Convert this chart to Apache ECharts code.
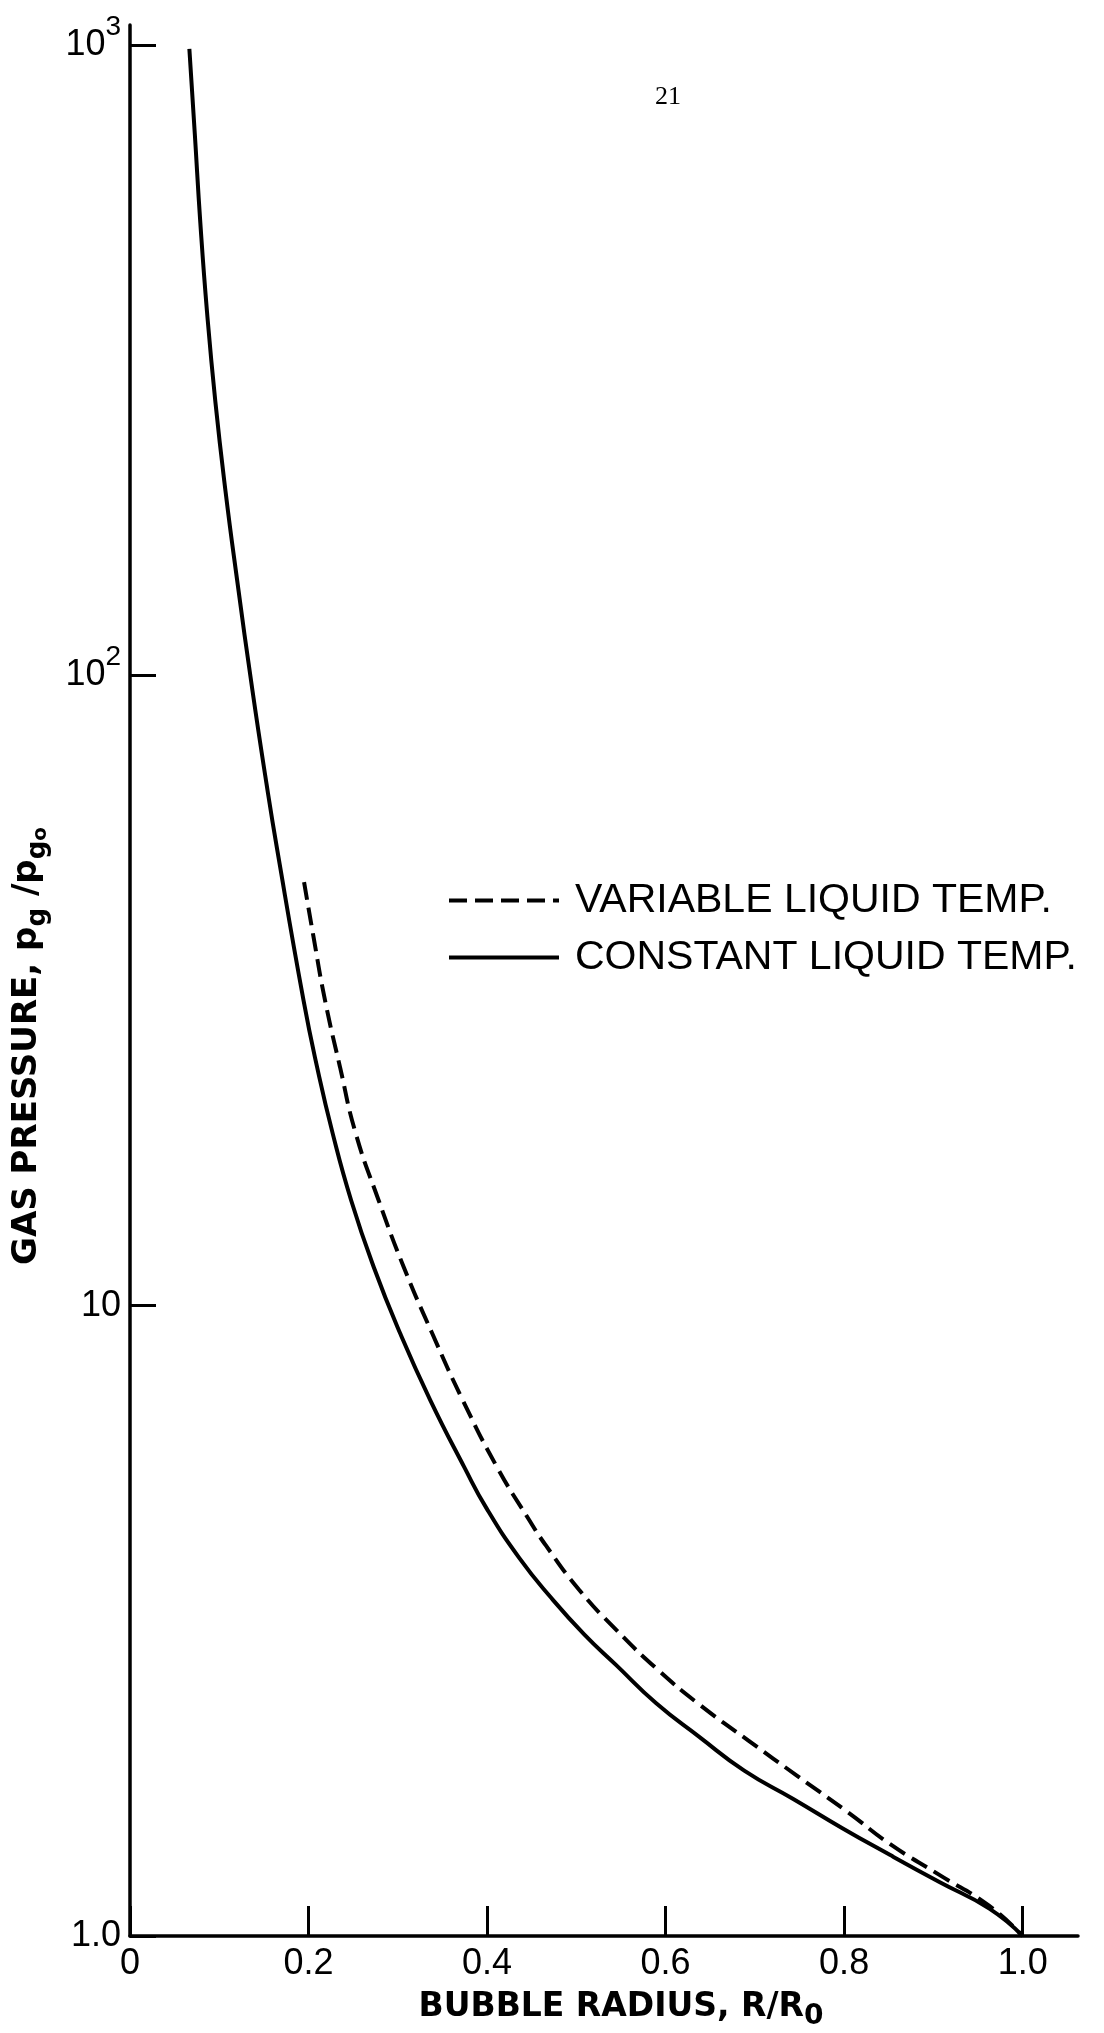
<!DOCTYPE html>
<html>
<head>
<meta charset="utf-8">
<script src="https://cdn.jsdelivr.net/npm/echarts@6/dist/echarts.min.js"></script>
<style>
html,body{margin:0;padding:0;background:#fff;}
#chart{width:1104px;height:2033px;}
</style>
</head>
<body>
<div id="chart"></div>
<script>
// ---- data ----
const constX = [0.0665, 0.0726, 0.0788, 0.0863, 0.0956, 0.1070, 0.1199, 0.1371, 0.1530, 0.1650, 0.1944, 0.2096, 0.2269, 0.2477, 0.2729, 0.3026, 0.3362, 0.3743, 0.3998, 0.4360, 0.4718, 0.5088, 0.5447, 0.5895, 0.6377, 0.6881, 0.7430, 0.7990, 0.8512, 0.9067, 0.9627, 1.0];
const constY = [986, 723, 522, 377, 272, 196, 142, 94.8, 67.2, 52.8, 30.5, 23.9, 18.8, 14.7, 11.53, 9.04, 7.09, 5.55, 4.76, 3.98, 3.44, 3.01, 2.69, 2.34, 2.07, 1.83, 1.65, 1.48, 1.345, 1.218, 1.105, 1.0];
const varX = [0.1950, 0.2054, 0.2185, 0.2353, 0.2527, 0.2785, 0.3065, 0.3385, 0.3726, 0.4110, 0.4472, 0.4651, 0.5026, 0.5447, 0.5906, 0.6377, 0.6932, 0.7486, 0.8047, 0.8512, 0.9067, 0.9627, 1.0];
const varY = [47.0, 38.6, 30.5, 23.9, 18.8, 14.7, 11.53, 9.04, 7.09, 5.55, 4.57, 4.18, 3.55, 3.06, 2.65, 2.33, 2.04, 1.79, 1.57, 1.40, 1.25, 1.116, 1.0];
const seriesNames = ['VARIABLE LIQUID TEMP.', 'CONSTANT LIQUID TEMP.'];
const xTickValues = [0, 0.2, 0.4, 0.6, 0.8, 1.0];
const xTickLabels = ['0', '0.2', '0.4', '0.6', '0.8', '1.0'];
const yTickValues = [1, 10, 100, 1000];
const yTickLabels = ['1.0', '10', '10{sup|2}', '10{sup|3}'];
const xTitle = 'BUBBLE RADIUS, R/R{sub|0}';
const yTitle = 'GAS PRESSURE, p{sub|g} /p{sub|g}{subsub|o}';
const pageNumber = '21';

// ---- chart ----
const zip = (xs, ys) => xs.map((x, i) => [x, ys[i]]);
const chart = echarts.init(document.getElementById('chart'), null, {renderer: 'canvas'});
const FONT = 'Liberation Sans, Arial, sans-serif';
const TFONT = 'DejaVu Sans, Liberation Sans, sans-serif';

const option = {
  animation: false,
  backgroundColor: '#ffffff',
  grid: {left: 130, right: 26, top: 25, bottom: 97},
  xAxis: {
    type: 'value', min: 0, max: 1.062,
    splitLine: {show: false},
    axisLine: {show: true, onZero: false, lineStyle: {color: '#000', width: 3.5}},
    axisTick: {show: true, inside: true, length: 30, customValues: xTickValues, lineStyle: {color: '#000', width: 3}},
    axisLabel: {
      customValues: xTickValues, margin: 10, color: '#000', fontSize: 36, fontFamily: FONT,
      formatter: v => { const i = xTickValues.findIndex(t => Math.abs(t - v) < 1e-6); return i >= 0 ? xTickLabels[i] : ''; }
    }
  },
  yAxis: {
    type: 'log', logBase: 10, min: 1, max: 1076,
    splitLine: {show: false},
    axisLine: {show: true, lineStyle: {color: '#000', width: 3.5}},
    axisTick: {show: true, inside: true, length: 26, customValues: yTickValues, lineStyle: {color: '#000', width: 3}},
    axisLabel: {
      customValues: yTickValues, margin: 9, color: '#000', fontSize: 36, fontFamily: FONT, lineHeight: 64,
      formatter: v => { const i = yTickValues.findIndex(t => Math.abs(Math.log10(t) - Math.log10(v)) < 1e-6); return i >= 0 ? yTickLabels[i] : ''; },
      rich: {sup: {fontSize: 28, lineHeight: 28, verticalAlign: 'top', fontFamily: FONT, color: '#000'}}
    }
  },
  legend: {
    orient: 'vertical', left: 442, top: 875,
    itemWidth: 110, itemHeight: 44, itemGap: 16,
    selectedMode: false,
    data: seriesNames,
    itemStyle: {opacity: 0},
    lineStyle: {width: 4},
    textStyle: {fontFamily: FONT, fontSize: 41, color: '#000', padding: [0, 0, 0, 11]}
  },
  series: [
    {
      name: seriesNames[0], type: 'line', data: zip(varX, varY), symbol: 'none', smooth: 0.5,
      lineStyle: {color: '#000', width: 4, type: [18, 8]}, itemStyle: {color: '#000'}
    },
    {
      name: seriesNames[1], type: 'line', data: zip(constX, constY), symbol: 'none', smooth: 0.5,
      lineStyle: {color: '#000', width: 4, type: 'solid'}, itemStyle: {color: '#000'}
    }
  ],
  graphic: [
    {
      type: 'text', x: 621, y: 2007,
      style: {
        text: xTitle, fill: '#000', fontSize: 33, fontWeight: 'bold', fontFamily: TFONT,
        lineHeight: 48, align: 'center', verticalAlign: 'middle',
        rich: {sub: {fontSize: 28, lineHeight: 28, fontWeight: 'bold', verticalAlign: 'bottom', fontFamily: TFONT, fill: '#000'}}
      }
    },
    {
      type: 'text', x: 27, y: 1046, rotation: Math.PI / 2,
      style: {
        text: yTitle, fill: '#000', fontSize: 34, fontWeight: 'bold', fontFamily: TFONT,
        lineHeight: 48, align: 'center', verticalAlign: 'middle',
        rich: {
          sub: {fontSize: 26, lineHeight: 26, fontWeight: 'bold', verticalAlign: 'bottom', fontFamily: TFONT, fill: '#000'},
          subsub: {fontSize: 20, lineHeight: 16, fontWeight: 'bold', verticalAlign: 'bottom', fontFamily: TFONT, fill: '#000'}
        }
      }
    },
    {
      type: 'text', x: 668, y: 97,
      style: {text: pageNumber, fill: '#000', fontSize: 26, fontFamily: 'Liberation Serif, serif', align: 'center', verticalAlign: 'middle'}
    }
  ]
};
chart.setOption(option);
</script>
</body>
</html>
